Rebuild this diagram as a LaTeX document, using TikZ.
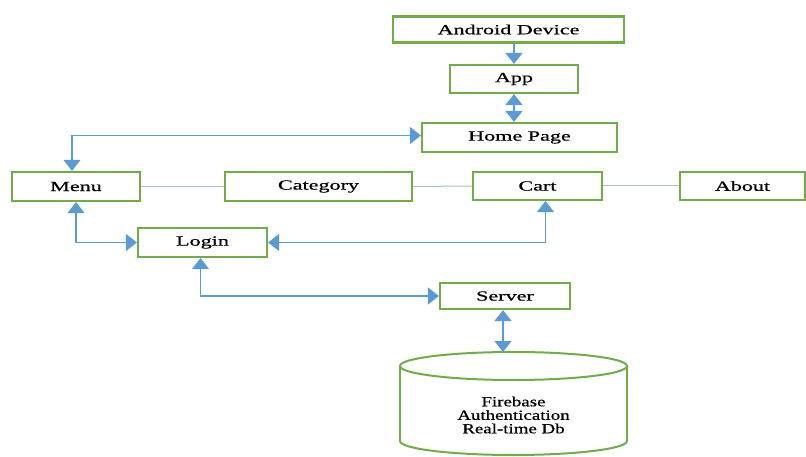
\documentclass[tikz,border=0pt]{standalone}
\usepackage{fontspec}
\usepackage{graphicx}
\setmainfont{Liberation Serif}
\newfontfamily\medfont{Liberation Serif}[FakeBold=0.6]
\usetikzlibrary{arrows.meta}
\definecolor{boxgreen}{RGB}{112,173,71}
\definecolor{arrblue}{RGB}{91,155,213}
\definecolor{linegray}{RGB}{165,195,215}
\newcommand{\sx}[1]{\scalebox{1.58}[1]{#1}}
\newcommand{\sy}[1]{\scalebox{1.35}[1]{#1}}
\begin{document}
\begin{tikzpicture}[x=1pt,y=-1pt,
  box/.style={draw=boxgreen, line width=2.2pt, fill=white, inner sep=0pt,
    font=\medfont\fontsize{14}{16}\selectfont},
  twoway/.style={draw=arrblue, line width=1.1pt, {Triangle[width=17pt,length=11pt]}-{Triangle[width=17pt,length=11pt]}},
  oneway/.style={draw=arrblue, line width=1.1pt, -{Triangle[width=17pt,length=11pt]}},
  plain/.style={draw=linegray, line width=1pt},
  dbline/.style={draw=boxgreen, line width=2pt}]
\useasboundingbox (0,0) rectangle (806,457);
\fill[white] (0,0) rectangle (806,457);

\node[box, minimum width=231, minimum height=26] (android) at (508.5,29.5) {\sx{Android Device}};
\node[box, minimum width=128, minimum height=28] (app) at (514,79) {\sx{App}};
\node[box, minimum width=195, minimum height=29] (home) at (519.5,137.5) {\sx{Home Page}};
\node[box, minimum width=128, minimum height=29] (menu) at (76,186.5) {\sx{Menu}};
\node[box, minimum width=187, minimum height=29] (category) at (318.5,186.5) {\sx{Category}};
\node[box, minimum width=129, minimum height=28] (cart) at (537.5,186) {\sx{Cart}};
\node[box, minimum width=125, minimum height=28] (about) at (742.5,186) {\sx{About}};
\node[box, minimum width=129, minimum height=29] (login) at (202.5,242.5) {\sx{Login}};
\node[box, minimum width=130, minimum height=26] (server) at (505,296) {\sx{Server}};

% database cylinder
\draw[dbline] (513.5,441) ellipse [x radius=113.5, y radius=14];
\fill[white] (400,366) rectangle (627,441);
\draw[dbline] (400,366) -- (400,441);
\draw[dbline] (627,366) -- (627,441);
\draw[dbline, fill=white] (513.5,366) ellipse [x radius=113.5, y radius=14];
\coordinate (dbtop) at (513.5,352);
\node[align=center, inner sep=0pt, font=\medfont\fontsize{14}{13.5}\selectfont] (dbtext) at (513.5,415)
  {\sy{Firebase}\\\sy{Authentication}\\\sy{Real-time Db}};

% plain links
\draw[plain] (menu.east) -- (category.west);
\draw[plain] (category.east) -- (cart.west);
\draw[plain] (cart.east) -- (about.west);

% arrows
\draw[oneway] (app.north |- android.south) -- (app.north);
\draw[twoway] (app.south) -- (app.south |- home.north);
\draw[twoway] ([xshift=-4pt]menu.north) |- ([yshift=2pt]home.west);
\draw[twoway] (menu.south) |- (login.west);
\draw[twoway] ([xshift=8pt]cart.south) |- (login.east);
\draw[twoway] ([xshift=-2pt]login.south) |- (server.west);
\draw[twoway] ([xshift=-2pt]server.south) -- ([xshift=-2pt]server.south |- dbtop);
\end{tikzpicture}
\end{document}
